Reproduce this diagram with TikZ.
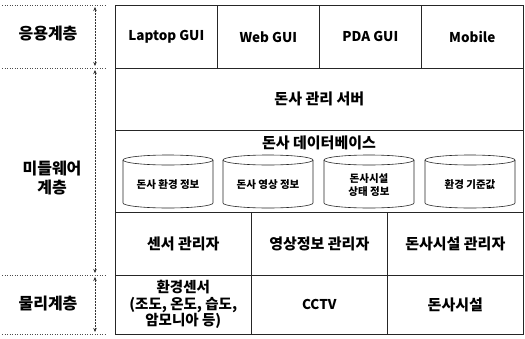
\documentclass[tikz,border=0pt]{standalone}
\usepackage{fontspec}
\setmainfont{Noto Sans CJK KR}
\usetikzlibrary{arrows.meta}
\tikzset{
  cell/.style={draw=black!85, line width=0.6pt, inner sep=0pt, anchor=north west, align=center, font=\bfseries\fontsize{15}{17}\selectfont},
  latin/.style={font=\bfseries\fontsize{13.5}{16}\selectfont},
  side/.style={align=center, font=\bfseries\fontsize{16}{19}\selectfont},
  sep/.style={draw=black!70, line width=0.5pt, dotted},
  span/.style={draw=black!80, line width=0.5pt, densely dotted, {Stealth[length=4pt,width=3.5pt]}-{Stealth[length=4pt,width=3.5pt]}},
  cyl/.style={draw=black!85, line width=0.6pt},
  cyltext/.style={align=center, font=\bfseries\fontsize{10.5}{12.5}\selectfont, inner sep=0pt}
}
\begin{document}
\begin{tikzpicture}[x=1pt,y=-1pt]
\useasboundingbox (0,0) rectangle (525,338);
% application row
\node[cell, latin, minimum width=102pt, minimum height=63pt] (lap) at (115,5) {Laptop GUI};
\node[cell, latin, minimum width=102pt, minimum height=63pt] (web) at (217,5) {Web GUI};
\node[cell, latin, minimum width=102pt, minimum height=63pt] (pda) at (319,5) {PDA GUI};
\node[cell, latin, minimum width=102pt, minimum height=63pt] (mob) at (421,5) {Mobile};
% server
\node[cell, minimum width=408pt, minimum height=62pt] (srv) at (115,68) {돈사 관리 서버};
% database
\node[cell, minimum width=408pt, minimum height=82pt] (db) at (115,130) {};
\node[font=\bfseries\fontsize{15}{17}\selectfont, inner sep=0pt] (dbt) at (319,143) {돈사 데이터베이스};
% cylinders
\foreach \n/\cx/\t in {c1/168/{돈사 환경 정보}, c2/268/{돈사 영상 정보}, c3/369/{돈사시설\\상태 정보}, c4/470/{환경 기준값}}{
  \draw[cyl] (\cx-45,160) -- (\cx-45,203) arc[start angle=180, end angle=0, x radius=45, y radius=5] -- (\cx+45,160);
  \draw[cyl] (\cx,160) ellipse[x radius=45, y radius=5];
  \node[cyltext] (\n) at (\cx,185) {\t};
}
% managers
\node[cell, minimum width=136pt, minimum height=63pt] (m1) at (115,212) {센서 관리자};
\node[cell, minimum width=136pt, minimum height=63pt] (m2) at (251,212) {영상정보 관리자};
\node[cell, minimum width=136pt, minimum height=63pt] (m3) at (387,212) {돈사시설 관리자};
% physical
\node[cell, minimum width=136pt, minimum height=59pt, font=\bfseries\fontsize{14.5}{16.5}\selectfont] (p1) at (115,275) {환경센서\\(조도, 온도, 습도,\\암모니아 등)};
\node[cell, latin, minimum width=136pt, minimum height=59pt] (p2) at (251,275) {CCTV};
\node[cell, minimum width=136pt, minimum height=59pt] (p3) at (387,275) {돈사시설};
% side labels
\node[side] (lapp) at (48,34) {응용계층};
\node[side] (lmid) at (52,178) {미들웨어\\계층};
\node[side] (lphy) at (48,304) {물리계층};
% separators
\coordinate (s1a) at (2,5);   \coordinate (s1b) at (106,5);
\coordinate (s2a) at (2,68);  \coordinate (s2b) at (106,68);
\coordinate (s3a) at (2,275); \coordinate (s3b) at (106,275);
\coordinate (s4a) at (2,334); \coordinate (s4b) at (106,334);
\draw[sep] (s1a) -- (s1b);
\draw[sep] (s2a) -- (s2b);
\draw[sep] (s3a) -- (s3b);
\draw[sep] (s4a) -- (s4b);
% spans
\coordinate (a1) at (95,7);   \coordinate (a2) at (95,66);
\coordinate (b1) at (95,70);  \coordinate (b2) at (95,273);
\coordinate (c1s) at (95,277); \coordinate (c2s) at (95,332);
\draw[span] (a1) -- (a2);
\draw[span] (b1) -- (b2);
\draw[span] (c1s) -- (c2s);
\end{tikzpicture}
\end{document}
